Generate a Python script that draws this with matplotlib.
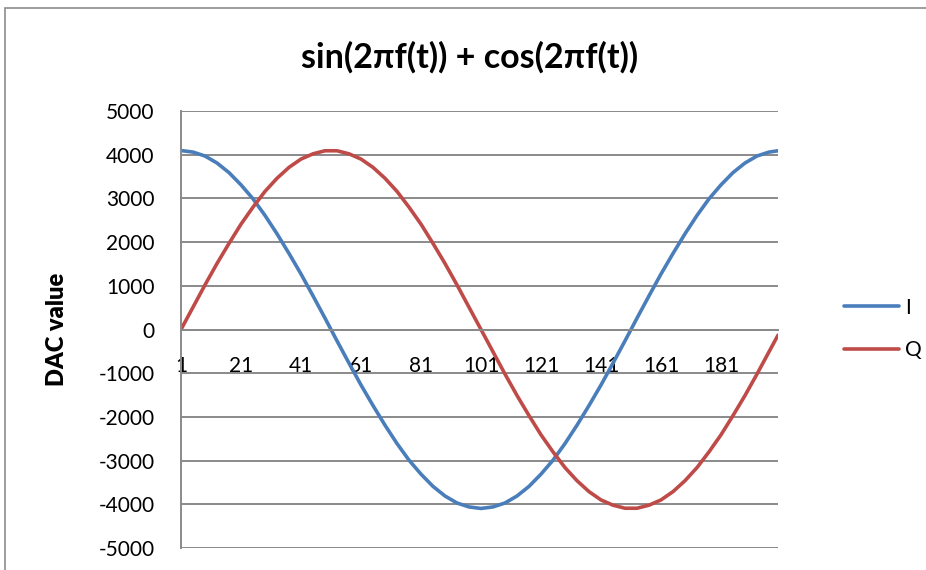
import matplotlib
matplotlib.use('Agg')
import matplotlib.pyplot as pyplot
from matplotlib.patches import Rectangle

# sample index (every 4th point of the 200)
samples = list(range(1, 198, 4)) + [200]

i_values = [4095, 4060, 3970, 3810, 3590, 3310, 2990, 2610, 2190, 1740,
            1270, 770, 260, -260, -770, -1270, -1740, -2190, -2610, -2990,
            -3310, -3590, -3810, -3970, -4060, -4095, -4060, -3970, -3810, -3590,
            -3310, -2990, -2610, -2190, -1740, -1270, -770, -260, 260, 770,
            1270, 1740, 2190, 2610, 2990, 3310, 3590, 3810, 3970, 4060,
            4090]

q_values = [0, 510, 1020, 1510, 1970, 2410, 2800, 3160, 3460, 3710,
            3900, 4020, 4090, 4090, 4020, 3900, 3710, 3460, 3160, 2800,
            2410, 1970, 1510, 1020, 510, 0, -510, -1020, -1510, -1970,
            -2410, -2800, -3160, -3460, -3710, -3900, -4020, -4090, -4090, -4020,
            -3900, -3710, -3460, -3160, -2800, -2410, -1970, -1510, -1020, -510,
            -130]

x_ticks = [1, 21, 41, 61, 81, 101, 121, 141, 161, 181]
y_ticks = list(range(-5000, 5001, 1000))

FONT = ['Lato', 'DejaVu Sans']
GRID = '#8a8a8a'
W, H = 926, 570

fig = pyplot.figure(figsize=(W / 100, H / 100), dpi=100)

# chart area border (runs off the right and bottom of the image)
fig.patches.append(Rectangle((5 / W, -0.1), 1.2, 1 - 8 / H + 0.1,
                             transform=fig.transFigure, fill=False,
                             edgecolor='#8c8c8c', linewidth=1.2))

ax = fig.add_axes([181 / W, 1 - 548 / H, 597 / W, 437 / H])

# move the category axis up to zero first (this resets the ticks)
for side in ['top', 'right']:
    ax.spines[side].set_visible(False)
ax.spines['bottom'].set_position(('data', 0))
ax.spines['bottom'].set_color(GRID)
ax.spines['bottom'].set_linewidth(1.4)
ax.spines['left'].set_color(GRID)
ax.spines['left'].set_linewidth(1.4)

ax.plot(samples, i_values, color='#4a7ebb', linewidth=2.6, label='I',
        solid_capstyle='round')
ax.plot(samples, q_values, color='#be4b48', linewidth=2.6, label='Q',
        solid_capstyle='round')

ax.set_xlim(1, 200)
ax.set_ylim(-5000, 5000)
ax.set_yticks(y_ticks)
ax.set_yticklabels([str(v) for v in y_ticks], family=FONT, fontsize=15)
ax.set_xticks(x_ticks)
ax.set_xticklabels([str(v) for v in x_ticks], family=FONT, fontsize=15)
ax.tick_params(axis='y', length=0, pad=19)
ax.tick_params(axis='x', length=0, pad=19)

ax.grid(axis='y', color=GRID, linewidth=1.4)
ax.set_axisbelow(True)

ax.set_ylabel('DAC value', family=FONT, fontsize=17, fontweight='heavy')
ax.yaxis.set_label_coords(-113 / 597, 0.5)

fig.text(470 / W, 1 - 57 / H, 'sin(2\u03c0f(t)) + cos(2\u03c0f(t))', family=FONT,
         fontsize=24.5, fontweight='bold', ha='center', va='center')

leg = ax.legend(loc='center left', bbox_to_anchor=(834 / W, 1 - 329 / H),
                bbox_transform=fig.transFigure, frameon=False,
                prop={'family': FONT, 'size': 15}, handlelength=2.6,
                handletextpad=0.3, labelspacing=1.1, borderpad=0)

pyplot.savefig('out.png', dpi=100)
